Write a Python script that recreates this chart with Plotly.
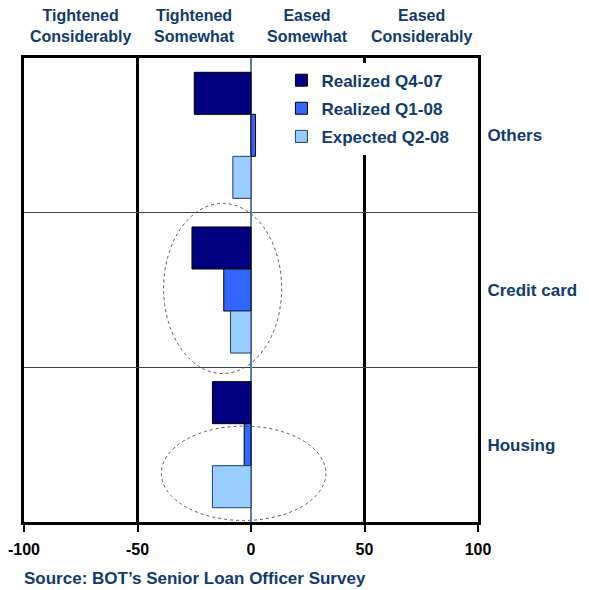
import plotly.graph_objects as go

# survey categories, top to bottom
categories = ['Others', 'Credit card', 'Housing']

# net percentage of respondents (negative = tightened)
realized_q4_07 = [-25, -26, -17]
realized_q1_08 = [2, -12, -3]
expected_q2_08 = [-8, -9, -17]

series_names = ['Realized Q4-07', 'Realized Q1-08', 'Expected Q2-08']
bar_colors = ['#000080', '#3366FF', '#99CCFF']
edge_colors = ['#000000', '#000000', '#1F3F6F']

header_pos = [-75, -25, 25, 75]
header_text = ['Tightened<br>Considerably', 'Tightened<br>Somewhat',
               'Eased<br>Somewhat', 'Eased<br>Considerably']

x_ticks = [-100, -50, 0, 50, 100]
x_tick_text = ['-100', '-50', '0', '50', '100']

navy = '#0F3B6E'
font_family = 'Arial, Liberation Sans, sans-serif'

fig = go.Figure()
for name, vals, col, edge in zip(series_names,
                                 [realized_q4_07, realized_q1_08, expected_q2_08],
                                 bar_colors, edge_colors):
    fig.add_bar(y=categories, x=vals, name=name, orientation='h', legendgroup=name,
                marker=dict(color=col, line=dict(color=edge, width=1)))

# header labels above the plot
for pos, txt in zip(header_pos, header_text):
    fig.add_annotation(x=pos, xref='x', y=1.07, yref='paper', text=txt,
                       showarrow=False, yanchor='middle',
                       font=dict(family=font_family, size=16, color=navy, weight='bold'))

fig.add_annotation(x=-0.004, xref='paper', y=-0.121, yref='paper',
                   text="Source: BOT\u2019s Senior Loan Officer Survey",
                   showarrow=False, xanchor='left', yanchor='middle',
                   font=dict(family=font_family, size=17, color=navy, weight='bold'))

# dotted ellipses highlighting credit card and housing expectations
fig.add_shape(type='circle', xref='x', yref='y', x0=-38.5, x1=13.5, y0=0.44, y1=1.54,
              line=dict(color='#555555', width=1, dash='dot'))
fig.add_shape(type='circle', xref='x', yref='y', x0=-39.5, x1=33, y0=1.88, y1=2.49,
              line=dict(color='#555555', width=1, dash='dot'))

fig.update_layout(
    width=589, height=590,
    margin=dict(l=24, r=111, t=58, b=68),
    plot_bgcolor='white', paper_bgcolor='white',
    barmode='group', bargap=0.185, bargroupgap=0,
    font=dict(family=font_family),
    legend=dict(x=0.567, y=0.99, xanchor='left', yanchor='top',
                bgcolor='white', borderwidth=0, tracegroupgap=3, traceorder='grouped',
                font=dict(family=font_family, size=17, color=navy, weight='bold')),
)

fig.update_xaxes(range=[-100, 100], tickvals=x_ticks, ticktext=x_tick_text,
                 automargin=False,
                 showgrid=True, gridcolor='black', gridwidth=3,
                 zeroline=True, zerolinecolor='#5B7BA3', zerolinewidth=1.5,
                 showline=True, linecolor='black', linewidth=3, mirror=True,
                 ticks='outside', ticklen=7, tickwidth=2, tickcolor='black',
                 ticklabelstandoff=4,
                 tickfont=dict(family=font_family, size=16, color='black', weight='bold'))

fig.update_yaxes(autorange='reversed', side='right', tickson='boundaries',
                 automargin=False,
                 showgrid=True, gridcolor='#444444', gridwidth=1,
                 showline=True, linecolor='black', linewidth=3, mirror=True,
                 ticks='', ticklabelstandoff=3,
                 tickfont=dict(family=font_family, size=17, color=navy, weight='bold'))

fig.write_html('out.html', config={'displayModeBar': False},
               post_script="document.body.style.margin='0px';")
